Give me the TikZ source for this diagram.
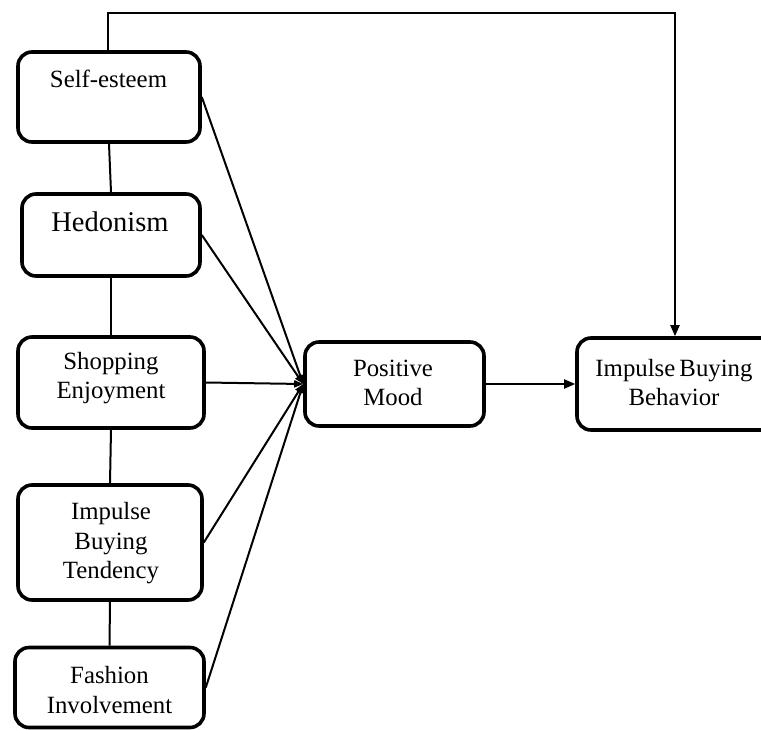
\documentclass[tikz,border=0pt]{standalone}
\usepackage{fontspec}
\setmainfont{Liberation Serif}
\usetikzlibrary{arrows.meta}
\begin{document}
\begin{tikzpicture}[x=1pt,y=-1pt,
  box/.style={draw=black, line width=3.6pt, rounded corners=14pt, fill=white, inner sep=0pt},
  txt/.style={align=center, inner sep=0pt, font=\fontsize{24.8}{29.5}\selectfont},
  conn/.style={draw=black, line width=2pt},
  arr/.style={conn, -{Triangle[length=11pt,width=9pt]}},
  arrs/.style={conn, -{Triangle[length=9pt,width=7pt]}}]
\useasboundingbox (0,0) rectangle (761,729);
\clip (0,0) rectangle (761,729);
\fill[white] (0,0) rectangle (761,729);
% boxes
\node[box, minimum width=182pt, minimum height=90pt] (se) at (109,97) {};
\node[box, minimum width=178pt, minimum height=82pt] (hed) at (111,235) {};
\node[box, minimum width=186pt, minimum height=91pt] (shop) at (111,382.5) {};
\node[box, minimum width=184pt, minimum height=115pt] (ibt) at (110,542.5) {};
\node[box, minimum width=189pt, minimum height=80pt] (fi) at (109.5,687.5) {};
\node[box, minimum width=179pt, minimum height=84pt] (pm) at (394.5,384) {};
\node[box, minimum width=200pt, minimum height=92pt] (ibb) at (677,384) {};
% texts
\node[txt] (se-t) at (108.5,79) {Self-esteem};
\node[txt, font=\fontsize{28.5}{33}\selectfont] (hed-t) at (110,222) {Hedonism};
\node[txt] (shop-t) at (111,378) {Shopping\\Enjoyment};
\node[txt] (ibt-t) at (111,543.5) {Impulse\\Buying\\Tendency};
\node[txt] (fi-t) at (109.5,690) {Fashion\\Involvement};
\node[txt] (pm-t) at (393,383) {Positive\\Mood};
\node[txt] (ibb-t) at (674,382.5) {Impulse\,Buying\\Behavior};
% vertical links
\draw[conn] (se.south) -- (hed.north);
\draw[conn] (hed.south) -- (shop.north);
\draw[conn] (shop.south) -- (ibt.north);
\draw[conn] (ibt.south) -- (fi.north);
% top feedback line
\coordinate (tl) at (108,13);
\coordinate (tr) at (675,13);
\draw[arr] ([xshift=-1pt]se.north) |- (tr) -- ([xshift=-2pt]ibb.north);
% arrows to positive mood
\draw[arrs] (se.east) -- (pm.west);
\draw[arrs] (hed.east) -- (pm.west);
\draw[arrs] (shop.east) -- (pm.west);
\draw[arrs] (ibt.east) -- (pm.west);
\draw[arrs] (fi.east) -- (pm.west);
% mood to behaviour
\draw[arr] (pm.east) -- (ibb.west);
\end{tikzpicture}
\end{document}
